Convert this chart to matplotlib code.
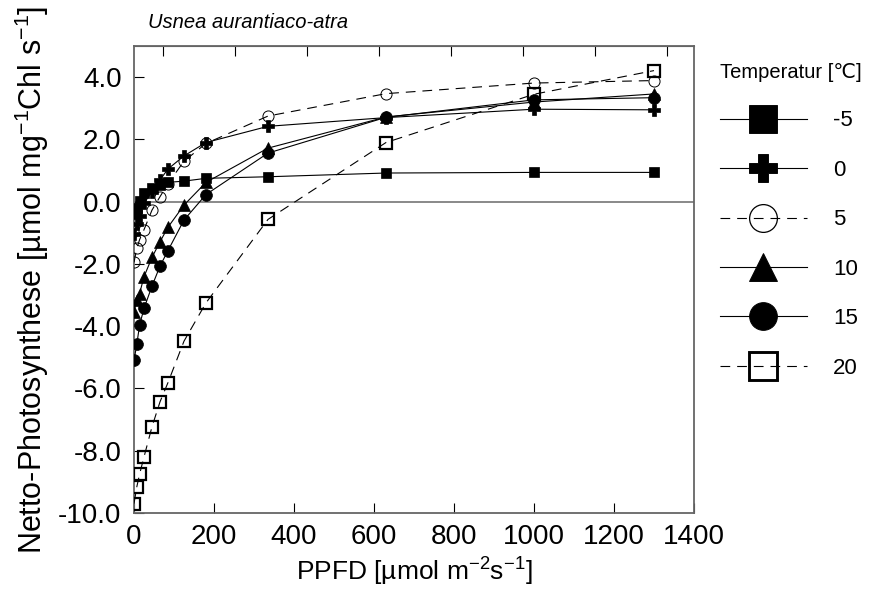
import matplotlib
matplotlib.use("Agg")
import matplotlib.pyplot as plt
from matplotlib.lines import Line2D
from matplotlib.ticker import FormatStrFormatter

plt.rcParams["font.family"] = ["Liberation Sans", "DejaVu Sans"]
plt.rcParams["mathtext.fontset"] = "custom"
plt.rcParams["mathtext.rm"] = "Liberation Sans"
plt.rcParams["mathtext.it"] = "Liberation Sans:italic"
plt.rcParams["axes.unicode_minus"] = False
plt.rcParams["lines.scale_dashes"] = False

# PPFD [µmol m-2 s-1]
ppfd = [0, 7, 14, 25, 45, 65, 85, 125, 180, 335, 630, 1000, 1300]

# Netto-Photosynthese pro Temperatur
np_m5 = [-0.40, -0.19, 0.03, 0.27, 0.43, 0.55, 0.62, 0.66, 0.75, 0.80, 0.92, 0.94, 0.94]
np_0 = [-1.05, -0.72, -0.45, -0.05, 0.32, 0.70, 1.05, 1.47, 1.90, 2.42, 2.70, 2.97, 2.95]
np_5 = [-1.95, -1.50, -1.22, -0.90, -0.27, 0.16, 0.58, 1.30, 1.87, 2.75, 3.47, 3.81, 3.89]
np_10 = [-3.55, -3.15, -2.95, -2.41, -1.79, -1.29, -0.82, -0.11, 0.62, 1.72, 2.72, 3.20, 3.46]
np_15 = [-5.10, -4.58, -3.96, -3.43, -2.71, -2.07, -1.57, -0.59, 0.23, 1.56, 2.71, 3.27, 3.34]
np_20 = [-9.70, -9.16, -8.75, -8.20, -7.23, -6.43, -5.81, -4.48, -3.25, -0.57, 1.90, 3.45, 4.21]

temperaturen = ["-5", "0", "5", "10", "15", "20"]
x_ticks = [0, 200, 400, 600, 800, 1000, 1200, 1400]
y_ticks = [-10, -8, -6, -4, -2, 0, 2, 4]
top_ticks = [72, 252, 432, 613, 793, 973, 1153, 1332]

serien = [np_m5, np_0, np_5, np_10, np_15, np_20]
# marker, Groesse (Plot), Groesse (Legende), gefuellt, gestrichelt, Randbreite
stile = [
    ("s", 6.5, 20, True, False, 0.5),
    ("P", 9.0, 20, True, False, 0.5),
    ("o", 8.0, 20, False, True, 0.7),
    ("^", 8.5, 20, True, False, 0.5),
    ("o", 8.5, 20, True, False, 0.5),
    ("s", 8.0, 20, False, True, 1.6),
]

fig = plt.figure(figsize=(8.72, 5.94), dpi=100)
ax = fig.add_axes([134 / 872, 1 - 513 / 594, 560 / 872, 467 / 594])

ax.axhline(0, color="#808080", lw=1.3, zorder=1)

handles = []
for werte, (m, ms, ms_leg, gefuellt, gestrichelt, mew), label in zip(serien, stile, temperaturen):
    ls = (0, (7, 5)) if gestrichelt else "-"
    fc = "black" if gefuellt else "none"
    ax.plot(ppfd, werte, color="black", lw=0.8, linestyle=ls,
            marker=m, markersize=ms, markerfacecolor=fc,
            markeredgecolor="black", markeredgewidth=mew, zorder=3)
    handles.append(Line2D([], [], color="black", lw=0.8, linestyle=ls,
                          marker=m, markersize=ms_leg, markerfacecolor=fc,
                          markeredgecolor="black", markeredgewidth=mew * 1.3,
                          label=label))

ax.set_xlim(0, 1400)
ax.set_ylim(-10, 5)
ax.set_xticks(x_ticks)
ax.set_yticks(y_ticks)
ax.yaxis.set_major_formatter(FormatStrFormatter("%.1f"))
ax.tick_params(direction="in", length=7, width=0.8, labelsize=20, pad=8)
ax.tick_params(axis="y", pad=9)

oben = ax.secondary_xaxis("top")
oben.set_xticks(top_ticks)
oben.tick_params(direction="in", length=7, width=0.8, labeltop=False)
oben.spines["top"].set_color("#555555")

for s in ax.spines.values():
    s.set_color("#666666")
    s.set_linewidth(1.3)

ax.set_xlabel("PPFD [µmol m$^{-2}$s$^{-1}$]", fontsize=19, labelpad=4)
ax.set_ylabel("Netto-Photosynthese [µmol mg$^{-1}$Chl s$^{-1}$]", fontsize=22, labelpad=5)
ax.set_title("Usnea aurantiaco-atra", fontsize=14.5, style="italic",
             loc="left", x=0.025, pad=13)

leg = ax.legend(handles=handles, loc="upper left",
                bbox_to_anchor=(720 / 872, 1 - 63 / 594),
                bbox_transform=fig.transFigure,
                title="Temperatur [℃]", title_fontsize=14.5, fontsize=16,
                frameon=False, handlelength=3.9, handletextpad=1.2,
                labelspacing=1.28, borderpad=0, borderaxespad=0,
                alignment="left")

fig.savefig("out.png", dpi=100)
